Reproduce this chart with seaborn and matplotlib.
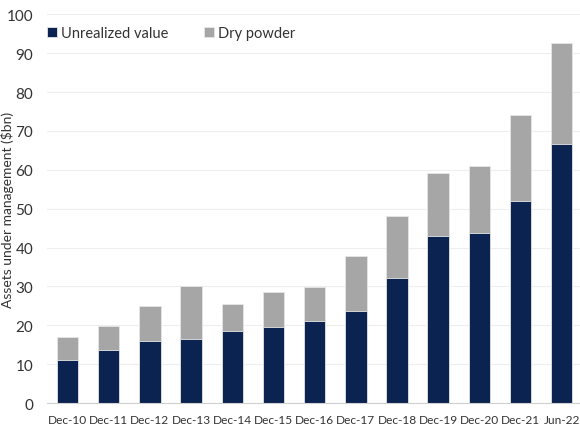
import numpy as np
import pandas as pd
import matplotlib
matplotlib.use('Agg')
import matplotlib.pyplot as plt
import seaborn as sns

# Datos
periods = ['Dec-10', 'Dec-11', 'Dec-12', 'Dec-13', 'Dec-14', 'Dec-15', 'Dec-16',
           'Dec-17', 'Dec-18', 'Dec-19', 'Dec-20', 'Dec-21', 'Jun-22']
unrealized = [11.0, 13.6, 16.0, 16.4, 18.6, 19.6, 21.2, 23.6, 32.3, 42.9, 43.7, 52.1, 66.7]
dry_powder = [6.1, 6.2, 9.0, 13.6, 7.0, 8.9, 8.6, 14.3, 15.8, 16.2, 17.3, 22.1, 25.8]

df = pd.DataFrame({'period': periods, 'unrealized': unrealized, 'dry': dry_powder})
df['total'] = df['unrealized'] + df['dry']

navy = '#00205B'
grey = '#A6A6A6'

sns.set_style('white')
plt.rcParams['font.family'] = ['Lato', 'DejaVu Sans']

fig = plt.figure(figsize=(5.8, 4.35), dpi=100)
ax = fig.add_axes([0.081, 0.071, 0.923, 0.894])

sns.barplot(data=df, x='period', y='total', color=grey, width=0.52,
            edgecolor='#e6e6e6', linewidth=0.6, ax=ax, label='Dry powder')
sns.barplot(data=df, x='period', y='unrealized', color=navy, width=0.52,
            edgecolor='#e6e6e6', linewidth=0.6, ax=ax, label='Unrealized value')

ax.set_ylim(0, 100)
ax.set_xlim(-0.5, 12.5)
ax.set_yticks(np.arange(0, 101, 10))
ax.yaxis.grid(True, color='#eeeeee', linewidth=0.8)
ax.set_axisbelow(True)

for side in ['left', 'right', 'top']:
    ax.spines[side].set_visible(False)
ax.spines['bottom'].set_color('#d0d0d0')

ax.set_xticks(np.arange(-0.5, 13, 1), minor=True)
ax.tick_params(axis='x', which='major', length=0, labelsize=8.6, colors='#333333', pad=8)
ax.tick_params(axis='x', which='minor', length=5, color='#d0d0d0', direction='out')
ax.tick_params(axis='y', length=0, labelsize=11, colors='#333333', pad=10)

ax.set_xlabel('')
ax.set_ylabel('Assets under management ($bn)', fontsize=10, color='#333333')
ax.yaxis.set_label_coords(-0.062, 0.5)

handles, labels = ax.get_legend_handles_labels()
order = [labels.index('Unrealized value'), labels.index('Dry powder')]
ax.legend([handles[i] for i in order], [labels[i] for i in order],
          loc='upper left', bbox_to_anchor=(-0.022, 1.0), ncol=2, frameon=False,
          fontsize=10.5, handlelength=0.7, handleheight=0.7, handletextpad=0.3,
          columnspacing=2.4, labelcolor='#333333', borderpad=0.3)

fig.savefig('out.png', dpi=100)
